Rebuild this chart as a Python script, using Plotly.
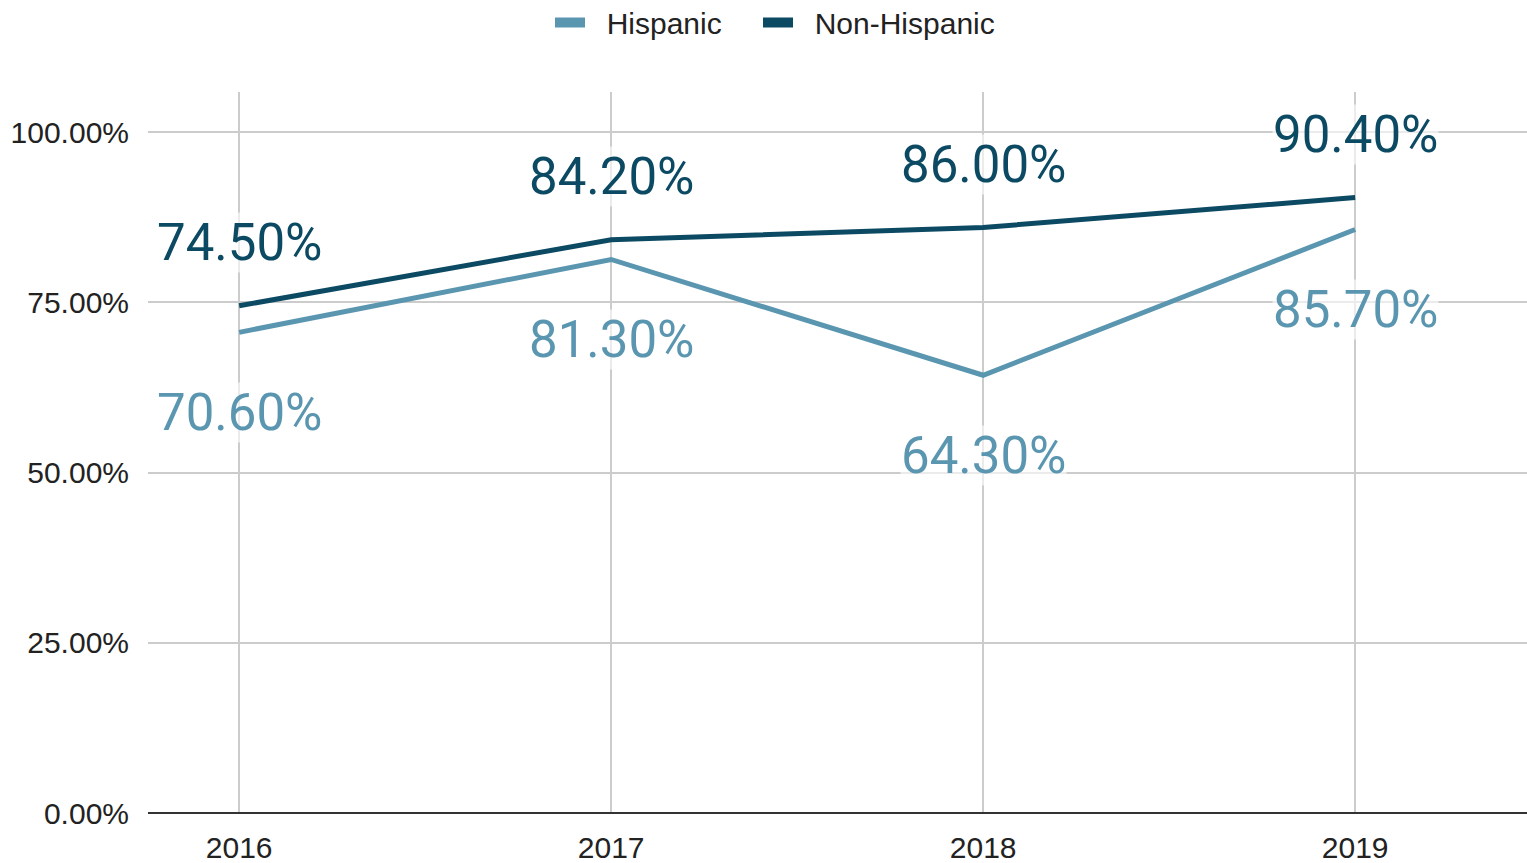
import plotly.graph_objects as go

# Share of respondents by year and ethnicity
years = [2016, 2017, 2018, 2019]
hispanic = [70.6, 81.3, 64.3, 85.7]
non_hispanic = [74.5, 84.2, 86.0, 90.4]

y_ticks = [0, 25, 50, 75, 100]
y_tick_labels = ["0.00%", "25.00%", "50.00%", "75.00%", "100.00%"]

# name, values, colour, label offset (px), legend id, legend left edge (px)
series = [
    ("Hispanic", hispanic, "#5b96b1", -80, "legend", 550),
    ("Non-Hispanic", non_hispanic, "#0c4a63", 63, "legend2", 758),
]

fig = go.Figure()

legend_style = dict(
    orientation="h", xref="container", xanchor="left",
    yref="container", y=0.974, yanchor="middle",
    font=dict(size=30, color="#222222"), itemwidth=30,
    bgcolor="rgba(0,0,0,0)",
)
legends = {}

for name, values, color, shift, leg, left in series:
    fig.add_trace(go.Scatter(
        x=years, y=values, mode="lines", name=name,
        line=dict(color=color, width=5), showlegend=False,
        hoverinfo="skip",
    ))
    # legend swatch drawn as a thick short bar
    fig.add_trace(go.Scatter(
        x=[None], y=[None], mode="lines", name="\u00a0\u00a0" + name,
        line=dict(color=color, width=10), showlegend=True, legend=leg,
    ))
    legends[leg] = dict(legend_style, x=left / 1527)
    for x, v in zip(years, values):
        fig.add_annotation(
            x=x, y=v, text=f"{v:.2f}%", showarrow=False,
            yshift=shift, font=dict(family="Roboto", size=51, color=color),
            bgcolor="rgba(255,255,255,0.6)", borderpad=0,
        )

fig.update_layout(
    width=1527, height=863,
    margin=dict(l=148, r=0, t=92, b=50),
    paper_bgcolor="white", plot_bgcolor="white",
    font=dict(family="Liberation Sans, Arial", size=30, color="#222222"),
    xaxis=dict(
        range=[2015.755, 2019.462], tickvals=years,
        ticktext=[str(y) for y in years],
        showgrid=True, gridcolor="#cccccc", gridwidth=2,
        zeroline=False, showline=False, ticks="", ticklabelstandoff=14,
        tickfont=dict(size=30, color="#222222"),
    ),
    yaxis=dict(
        range=[0, 105.9], tickvals=y_ticks, ticktext=y_tick_labels,
        showgrid=True, gridcolor="#cccccc", gridwidth=2,
        zeroline=True, zerolinecolor="#333333", zerolinewidth=2,
        showline=False, ticks="", ticklabelstandoff=18,
        tickfont=dict(size=30, color="#222222"),
    ),
    **legends,
)

fig.write_html("out.html")
